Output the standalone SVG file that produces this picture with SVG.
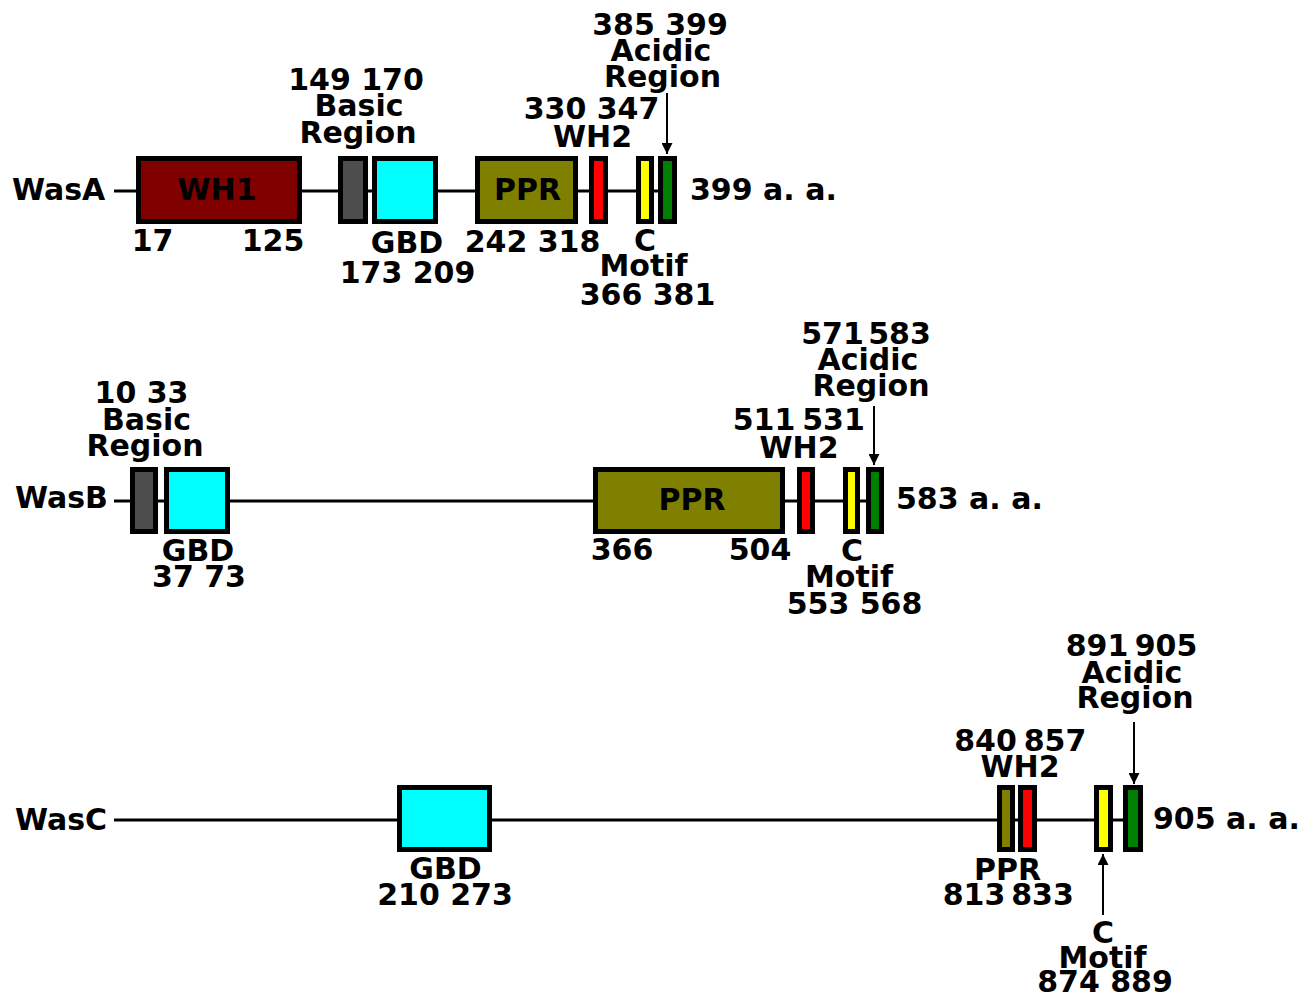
<svg xmlns="http://www.w3.org/2000/svg" width="1314" height="996" viewBox="0 0 1314 996">
<defs>
<style>
text{font-family:"DejaVu Sans","Liberation Sans",sans-serif;font-weight:bold;font-size:30px;fill:#000}
.m{text-anchor:middle}
.d{stroke:#000;stroke-width:5}
.bb{stroke:#000;stroke-width:3;fill:none}
.ar{stroke:#000;stroke-width:2;fill:none}
</style>
<marker id="ah" viewBox="0 0 10 10" refX="10" refY="5" markerWidth="11" markerHeight="11" markerUnits="userSpaceOnUse" orient="auto">
<path d="M0,0 L10,5 L0,10 Z" fill="#000"/>
</marker>
</defs>
<g id="connectors">
<line class="bb" x1="114" y1="191" x2="660" y2="191"/>
<line class="bb" x1="114" y1="501" x2="868" y2="501"/>
<line class="bb" x1="114" y1="820" x2="1125" y2="820"/>
<line class="ar" x1="667" y1="93" x2="667" y2="154" marker-end="url(#ah)"/>
<line class="ar" x1="874" y1="406" x2="874" y2="465" marker-end="url(#ah)"/>
<line class="ar" x1="1134" y1="722" x2="1134" y2="784" marker-end="url(#ah)"/>
<line class="ar" x1="1103" y1="915" x2="1103" y2="854" marker-end="url(#ah)"/>
</g>
<g id="wasA">
<text x="12" y="200">WasA</text>
<text x="690" y="200">399 a. a.</text>
</g>
<g id="wasA-wh1">
<rect class="d" x="138.5" y="158.5" width="161" height="63" fill="#800000"/>
<text class="m" x="217" y="200">WH1</text>
<text class="m" x="152.5" y="251">17</text>
<text class="m" x="273" y="251">125</text>
</g>
<g id="wasA-basic">
<rect class="d" x="340.5" y="158.5" width="25" height="63" fill="#4d4d4d"/>
<text class="m" x="356" y="90">149 170</text>
<text class="m" x="359" y="116">Basic</text>
<text class="m" x="358" y="143">Region</text>
</g>
<g id="wasA-gbd">
<rect class="d" x="374.5" y="158.5" width="61" height="63" fill="#00ffff"/>
<text class="m" x="407" y="253">GBD</text>
<text class="m" x="407.5" y="283">173 209</text>
</g>
<g id="wasA-ppr">
<rect class="d" x="477.5" y="158.5" width="98" height="63" fill="#808000"/>
<text class="m" x="527.5" y="200">PPR</text>
<text class="m" x="532.5" y="252">242 318</text>
</g>
<g id="wasA-wh2">
<rect class="d" x="591.5" y="158.5" width="14" height="63" fill="#ff0000"/>
<text class="m" x="591.5" y="119">330 347</text>
<text class="m" x="592.5" y="147">WH2</text>
</g>
<g id="wasA-c">
<rect class="d" x="638.5" y="158.5" width="13" height="63" fill="#ffff00"/>
<text class="m" x="645" y="251">C</text>
<text class="m" x="643.5" y="276">Motif</text>
<text class="m" x="647.5" y="305">366 381</text>
</g>
<g id="wasA-acidic">
<rect class="d" x="660.5" y="158.5" width="14" height="63" fill="#008000"/>
<text class="m" x="660" y="35">385 399</text>
<text class="m" x="661" y="61">Acidic</text>
<text class="m" x="662.5" y="87">Region</text>
</g>
<g id="wasB">
<text x="15" y="508">WasB</text>
<text x="896" y="509">583 a. a.</text>
</g>
<g id="wasB-basic">
<rect class="d" x="132.5" y="469.5" width="23" height="62" fill="#4d4d4d"/>
<text class="m" x="141.5" y="403">10 33</text>
<text class="m" x="146.5" y="430">Basic</text>
<text class="m" x="145" y="456">Region</text>
</g>
<g id="wasB-gbd">
<rect class="d" x="166.5" y="469.5" width="61" height="62" fill="#00ffff"/>
<text class="m" x="198" y="561">GBD</text>
<text class="m" x="199" y="587">37 73</text>
</g>
<g id="wasB-ppr">
<rect class="d" x="595.5" y="469.5" width="187" height="62" fill="#808000"/>
<text class="m" x="692" y="510">PPR</text>
<text class="m" x="622" y="560">366</text>
<text class="m" x="760" y="560">504</text>
</g>
<g id="wasB-wh2">
<rect class="d" x="799.5" y="469.5" width="13" height="62" fill="#ff0000"/>
<text class="m" x="764" y="430">511</text>
<text class="m" x="833.5" y="430">531</text>
<text class="m" x="799" y="458">WH2</text>
</g>
<g id="wasB-c">
<rect class="d" x="845.5" y="469.5" width="12" height="62" fill="#ffff00"/>
<text class="m" x="852" y="561">C</text>
<text class="m" x="849" y="587">Motif</text>
<text class="m" x="854.5" y="614">553 568</text>
</g>
<g id="wasB-acidic">
<rect class="d" x="868.5" y="469.5" width="13" height="62" fill="#008000"/>
<text class="m" x="832.5" y="344">571</text>
<text class="m" x="899.5" y="344">583</text>
<text class="m" x="868" y="370">Acidic</text>
<text class="m" x="871" y="396">Region</text>
</g>
<g id="wasC">
<text x="15" y="830">WasC</text>
<text x="1153" y="829">905 a. a.</text>
</g>
<g id="wasC-gbd">
<rect class="d" x="399.5" y="787.5" width="90" height="62" fill="#00ffff"/>
<text class="m" x="445.5" y="879">GBD</text>
<text class="m" x="445" y="905">210 273</text>
</g>
<g id="wasC-ppr">
<rect class="d" x="999.5" y="787.5" width="13" height="62" fill="#808000"/>
<text class="m" x="1007.5" y="880">PPR</text>
<text class="m" x="974" y="905">813</text>
<text class="m" x="1042.5" y="905">833</text>
</g>
<g id="wasC-wh2">
<rect class="d" x="1020.5" y="787.5" width="14" height="62" fill="#ff0000"/>
<text class="m" x="985.5" y="751">840</text>
<text class="m" x="1055" y="751">857</text>
<text class="m" x="1020" y="777">WH2</text>
</g>
<g id="wasC-c">
<rect class="d" x="1096.5" y="787.5" width="14" height="62" fill="#ffff00"/>
<text class="m" x="1103" y="943">C</text>
<text class="m" x="1102.5" y="968">Motif</text>
<text class="m" x="1105" y="992">874 889</text>
</g>
<g id="wasC-acidic">
<rect class="d" x="1125.5" y="787.5" width="15" height="62" fill="#008000"/>
<text class="m" x="1097" y="656">891</text>
<text class="m" x="1166" y="656">905</text>
<text class="m" x="1132" y="683">Acidic</text>
<text class="m" x="1135" y="708">Region</text>
</g>
</svg>
